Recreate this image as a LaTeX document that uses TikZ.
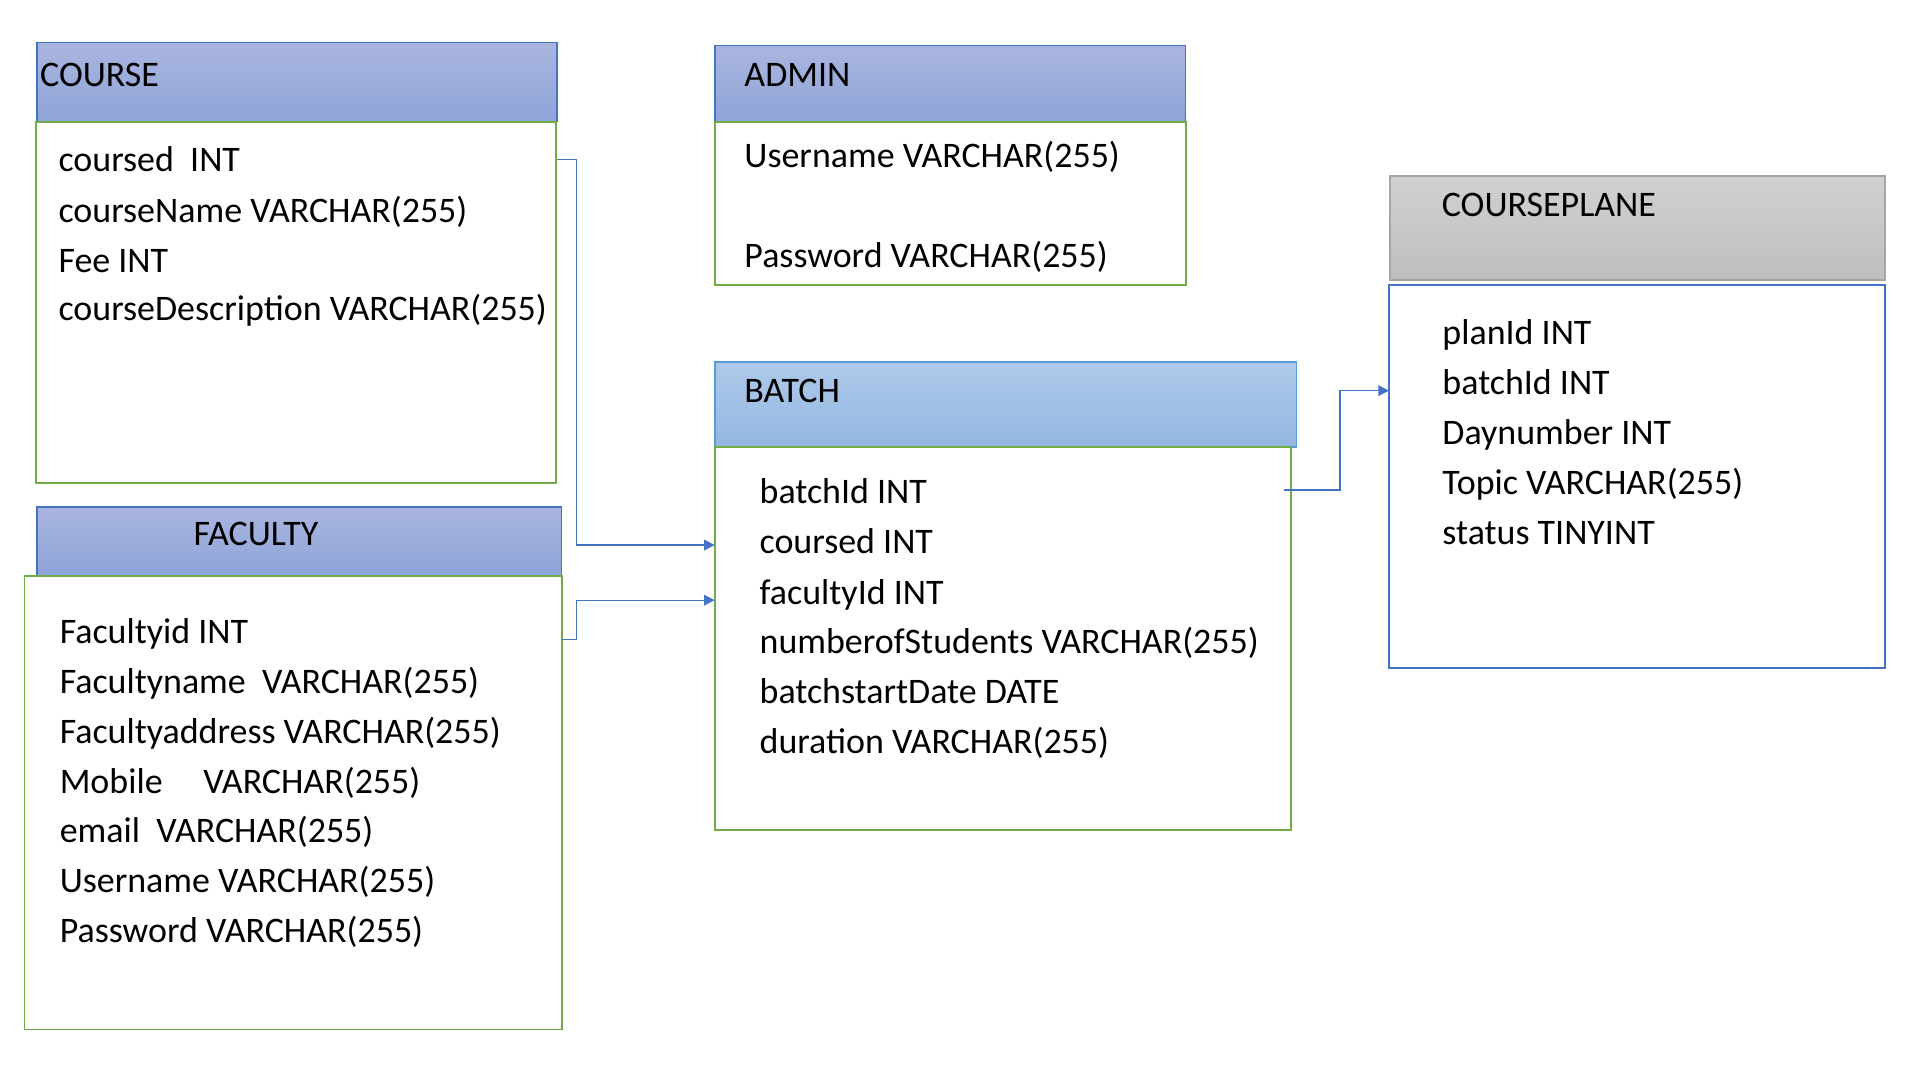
\documentclass[tikz,border=0pt]{standalone}
\usepackage{fontspec}
\setmainfont{Carlito}
\usepackage{tikz}
\usetikzlibrary{fit,arrows.meta}
\definecolor{blueline}{RGB}{68,114,196}
\definecolor{lightline}{RGB}{91,155,213}
\definecolor{grayline}{RGB}{165,165,165}
\definecolor{greenline}{RGB}{112,173,71}

\begin{document}
\begin{tikzpicture}[x=0.75pt,y=0.75pt,yscale=-1,xscale=1,
  every node/.style={font=\fontsize{22}{26}\selectfont},
  box/.style={inner sep=0pt, outer sep=0pt},
  hdr/.style={box, draw=blueline, line width=1pt, top color={rgb,255:red,170;green,181;blue,223}, bottom color={rgb,255:red,142;green,165;blue,216}},
  bhdr/.style={box, draw=lightline, line width=1pt, top color={rgb,255:red,174;green,201;blue,233}, bottom color={rgb,255:red,147;green,183;blue,226}},
  ghdr/.style={box, draw=grayline, line width=1pt, top color={rgb,255:red,209;green,209;blue,209}, bottom color={rgb,255:red,190;green,190;blue,190}},
  tbl/.style={box, draw=greenline, line width=1.2pt},
  ptbl/.style={box, draw=blueline, line width=1.2pt},
  row/.style={anchor=base west, inner sep=0pt},
  link/.style={draw=blueline, line width=0.8pt, -{Triangle[length=6.5pt,width=6.5pt]}}]
\useasboundingbox (0,0) rectangle (1567,881);

% Shape: Rectangle
\node[hdr, fit={(30,34.6) (454.8,99.3)}] (courseHdr) {};
% Shape: Rectangle
\node[tbl, fit={(29,99.3) (453.9,394.1)}] (courseBody) {};
% Shape: Rectangle
\node[hdr, fit={(583.3,37.1) (967.6,99.3)}] (adminHdr) {};
% Shape: Rectangle
\node[tbl, fit={(583.3,99.3) (967.6,232.5)}] (adminBody) {};
% Shape: Rectangle
\node[bhdr, fit={(583.3,295.2) (1058,364.9)}] (batchHdr) {};
% Shape: Rectangle
\node[tbl, fit={(583.3,364.9) (1053.6,677.1)}] (batchBody) {};
% Shape: Rectangle
\node[ghdr, fit={(1134.5,143.4) (1538.4,228.3)}] (planHdr) {};
% Shape: Rectangle
\node[ptbl, fit={(1133.6,232.5) (1538.4,545)}] (planBody) {};
% Shape: Rectangle
\node[hdr, fit={(30,413.7) (458.3,470)}] (facultyHdr) {};
% Shape: Rectangle
\node[tbl, fit={(20,470) (458.3,840.2)}] (facultyBody) {};

% Text Node
\node[row] (courseTitle) at (32.5,70.3) {COURSE};
% Text Node
\node[row] (course1) at (47.5,139.6) {coursed\ \ INT};
% Text Node
\node[row] (course2) at (47.5,181.3) {courseName VARCHAR(255)};
% Text Node
\node[row] (course3) at (47.5,222) {Fee INT};
% Text Node
\node[row] (course4) at (47.5,261.4) {courseDescription VARCHAR(255)};

% Text Node
\node[row] (adminTitle) at (607.3,70.3) {ADMIN};
% Text Node
\node[row] (admin1) at (607.3,136.3) {Username VARCHAR(255)};
% Text Node
\node[row] (admin2) at (607.3,218) {Password VARCHAR(255)};

% Text Node
\node[row] (batchTitle) at (607.3,328.3) {BATCH};
% Text Node
\node[row] (batch1) at (619.7,411) {batchId INT};
% Text Node
\node[row] (batch2) at (619.7,452) {coursed INT};
% Text Node
\node[row] (batch3) at (619.7,493) {facultyId INT};
% Text Node
\node[row] (batch4) at (619.7,533.5) {numberofStudents VARCHAR(255)};
% Text Node
\node[row] (batch5) at (619.7,574.3) {batchstartDate DATE};
% Text Node
\node[row] (batch6) at (619.7,615) {duration VARCHAR(255)};

% Text Node
\node[row] (planTitle) at (1176.5,176.6) {COURSEPLANE};
% Text Node
\node[row] (plan1) at (1177,281) {planId INT};
% Text Node
\node[row] (plan2) at (1177,322) {batchId INT};
% Text Node
\node[row] (plan3) at (1177,362.7) {Daynumber INT};
% Text Node
\node[row] (plan4) at (1177,403.4) {Topic VARCHAR(255)};
% Text Node
\node[row] (plan5) at (1177,444) {status TINYINT};

% Text Node
\node[anchor=base, inner sep=0pt] (facultyTitle) at (209,445.6) {FACULTY};
% Text Node
\node[row] (faculty1) at (48.5,525.2) {Facultyid INT};
% Text Node
\node[row] (faculty2) at (48.5,566) {Facultyname\ \ VARCHAR(255)};
% Text Node
\node[row] (faculty3) at (48.5,606.6) {Facultyaddress VARCHAR(255)};
% Text Node
\node[row] (faculty4) at (48.5,647.2) {Mobile\ \ \ \ \ VARCHAR(255)};
% Text Node
\node[row] (faculty5) at (48.5,687.8) {email\ \ VARCHAR(255)};
% Text Node
\node[row] (faculty6) at (48.5,728.4) {Username VARCHAR(255)};
% Text Node
\node[row] (faculty7) at (48.5,769) {Password VARCHAR(255)};

% Connection
\draw[link] ([yshift=-4.5pt]courseHdr.east |- course1.mid) -- ++(15.5,0) |- ([yshift=-3pt]batchBody.west |- batch2.mid);
% Connection
\draw[link] (facultyBody.east |- faculty1.mid) -- ++(12,0) |- (batchBody.west |- batch3.mid);
% Connection
\draw[link] ([xshift=-4.5pt,yshift=-6pt]batchBody.east |- batch1.mid) -- ++(46,0) |- (planBody.west |- plan2.mid);

\end{tikzpicture}
\end{document}
